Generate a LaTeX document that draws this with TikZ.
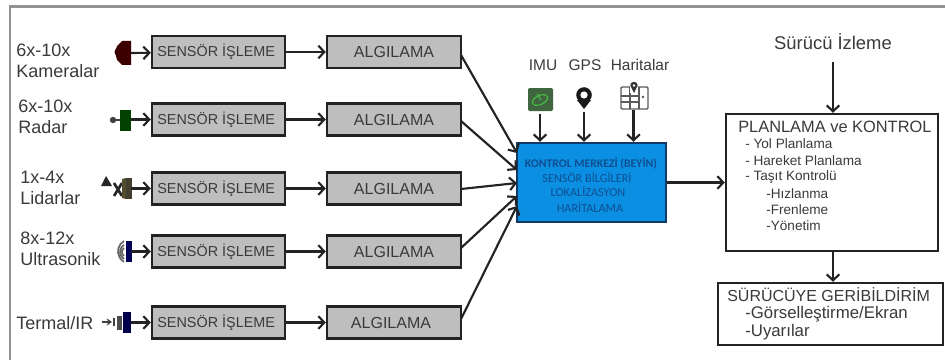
\documentclass[tikz,border=0pt]{standalone}
\usepackage{fontspec}
\setmainfont{Liberation Sans}
\newfontfamily\calib{Carlito}
\usetikzlibrary{arrows.meta,calc}
\definecolor{boxgray}{HTML}{BEBEBE}
\definecolor{edge}{HTML}{232323}
\definecolor{ink}{HTML}{3A3A3A}
\definecolor{ctrlblue}{HTML}{0A8FE3}
\definecolor{ctrlink}{HTML}{0F4F8F}
\definecolor{ctrledge}{HTML}{103A63}
\tikzset{
  x=.75pt,y=-.75pt,
  flow/.style={draw=edge,line width=1.6pt,-{Straight Barb[length=4.5pt,width=9.5pt,line width=1.6pt]}},
  frameline/.style={draw=gray!85,line width=2pt},
  sensorbox/.style={draw=edge,fill=boxgray,line width=1.8pt,minimum width=99.75pt,minimum height=24pt,inner sep=0pt,text=ink,font=\fontsize{10.8}{13}\selectfont},
  algbox/.style={draw=edge,fill=boxgray,line width=1.8pt,minimum width=100.5pt,minimum height=24pt,inner sep=0pt,text=ink,font=\fontsize{12}{14}\selectfont},
  ctrlbox/.style={draw=ctrledge,fill=ctrlblue,line width=1.8pt,minimum width=111.75pt,minimum height=59.25pt,inner sep=0pt},
  planbox/.style={draw=edge,fill=white,line width=1.8pt,inner sep=0pt},
  bigtxt/.style={anchor=west,inner sep=0pt,text=ink,font=\fontsize{13.5}{15}\selectfont},
  toptxt/.style={inner sep=0pt,text=ink,font=\fontsize{11.6}{14}\selectfont},
  plantxt/.style={anchor=west,inner sep=0pt,text=ink,font=\fontsize{10.2}{12}\selectfont},
  fbtxt/.style={anchor=west,inner sep=0pt,text=ink,font=\fontsize{12.6}{14}\selectfont},
  ctrltxt/.style={inner sep=0pt,text=ctrlink,font=\calib\fontsize{9.2}{11}\selectfont},
}
\begin{document}
\begin{tikzpicture}
\useasboundingbox (0,0) rectangle (945,360);
% outer frame
\draw[frameline] (10,360) -- (10,6.5) -- (945,6.5);

% left labels
\node[bigtxt] (l1a) at (16,50) {6x-10x};
\node[bigtxt] (l1b) at (16,71) {Kameralar};
\node[bigtxt] (l2a) at (18,106) {6x-10x};
\node[bigtxt] (l2b) at (18,127) {Radar};
\node[bigtxt] (l3a) at (20,177) {1x-4x};
\node[bigtxt] (l3b) at (20,198) {Lidarlar};
\node[bigtxt] (l4a) at (20,238) {8x-12x};
\node[bigtxt] (l4b) at (20,259) {Ultrasonik};
\node[bigtxt] (l5) at (16,323) {Termal/IR};

% sensor icons
% camera
\fill[black!60!red!60!black] (122,41) -- (131,41) -- (131,65) -- (122,65) -- (117,60) -- (115,52) -- (117,46) -- cycle;
\fill[black!60!red!60!black] (119,52) circle (4.5);
% radar
\fill[black!75] (113,120) circle (3.2);
\draw[black!75,line width=1pt] (113,120) -- (120,120);
\fill[green!25!black] (120,110) rectangle (131,131);
% lidar
\fill[black!85] (101,186) -- (106,176) -- (112,186) -- cycle;
\draw[black!85,line width=2pt] (114,183) -- (122,196);
\draw[black!85,line width=2pt] (114,196) -- (122,183);
\fill[olive!45!black] (122,179) -- (126,178) -- (126,199) -- (122,198) -- cycle;
\fill[black!70!olive] (126,178) rectangle (132,199);
% ultrasonic
\draw[gray!80!black,line width=1.3pt] (124,241) arc[start angle=240,end angle=120,radius=12];
\draw[gray!80!black,line width=1.3pt] (124,245) arc[start angle=240,end angle=120,radius=8];
\draw[gray!80!black,line width=1.3pt] (124,248) arc[start angle=240,end angle=120,radius=4.5];
\fill[blue!35!black] (126,241) rectangle (132,262);
% thermal
\draw[black!75,line width=1.5pt,-{Stealth[length=4pt,width=5.5pt]}] (102,322) -- (112,322);
\fill[black!75] (113,318) rectangle (115,326);
\fill[black!70] (117,316) rectangle (122,330);
\fill[blue!30!black] (123,312) rectangle (131,333);

% sensor connector start points
\coordinate (i1) at (131,53);
\coordinate (i2) at (131,119.5);
\coordinate (i3) at (131,188.5);
\coordinate (i4) at (131,251.5);
\coordinate (i5) at (131,322.5);

% sensor processing boxes
\node[sensorbox] (s1) at (218.5,52) {\hspace*{-3.5pt}SENSÖR İŞLEME};
\node[sensorbox] (s2) at (218.5,119.5) {\hspace*{-3.5pt}SENSÖR İŞLEME};
\node[sensorbox] (s3) at (218.5,188.5) {\hspace*{-3.5pt}SENSÖR İŞLEME};
\node[sensorbox] (s4) at (218.5,251.5) {\hspace*{-3.5pt}SENSÖR İŞLEME};
\node[sensorbox] (s5) at (218.5,322.5) {\hspace*{-3.5pt}SENSÖR İŞLEME};

% perception boxes
\node[algbox] (a1) at (394,52) {ALGILAMA};
\node[algbox] (a2) at (394,119.5) {ALGILAMA};
\node[algbox] (a3) at (394,188.5) {ALGILAMA};
\node[algbox] (a4) at (394,251.5) {ALGILAMA};
\node[algbox] (a5) at (394,322.5) {\hspace*{-4.5pt}ALGILAMA};

\foreach \n in {1,...,5}{
  \draw[flow] (i\n) -- (s\n);
  \draw[flow] (s\n) -- (a\n);
}

% control centre
\node[ctrlbox] (ctrl) at (591.5,182.5) {};
\node[ctrltxt,font=\calib\bfseries\fontsize{8.8}{11}\selectfont] (c1t) at (591,163) {KONTROL MERKEZİ (BEYİN)};
\node[ctrltxt] (c2t) at (587,177.5) {SENSÖR BİLGİLERİ};
\node[ctrltxt] (c3t) at (588,192) {LOKALİZASYON};
\node[ctrltxt] (c4t) at (590,207) {HARİTALAMA};

\coordinate (in1) at (517,153);
\coordinate (in2) at (517,170);
\coordinate (in3) at (517,183);
\coordinate (in4) at (517,196);
\coordinate (in5) at (517,206);
\coordinate (o1) at (461,55);
\coordinate (o2) at (461,121);
\coordinate (o3) at (461,189);
\coordinate (o4) at (461,248);
\coordinate (o5) at (461,319);
\foreach \n in {1,...,5}{\draw[flow] (o\n) -- (in\n);}

% top inputs
\node[toptxt] (imu) at (543,65) {IMU};
\node[toptxt] (gps) at (585,65) {GPS};
\node[toptxt] (har) at (640,65) {Haritalar};

% IMU icon
\fill[green!20!black!75,rounded corners=1pt] (528,88) rectangle (553,111);
\draw[green!45!gray,line width=.9pt,rotate around={25:(540,100)}] (540,100) ellipse (8 and 4.5);
\draw[green!45!gray,line width=.9pt] (537,94) -- (541,100);
% GPS icon
\fill[black!90] (584,109) -- (577,100) -- (591,100) -- cycle;
\fill[black!90] (584,95) circle (7.8);
\fill[white] (584,95) circle (3.6);
% map icon
\draw[black!65,line width=1.1pt,rounded corners=.8pt] (621,87) rectangle (648,109);
\draw[black!65,line width=1pt] (630,87) -- (630,109) (639,87) -- (639,109) (621,96) -- (639,96) (621,102) -- (639,102);
\fill[white] (630,82) rectangle (638,93);
\fill[black!80] (634,93) -- (630.3,85.5) arc[start angle=180,end angle=360,radius=3.7] -- cycle;
\fill[white] (634,85.5) circle (1.3);
\fill[black!65] (643,97) circle (1.4);

\coordinate (u1) at (540,114);
\coordinate (u2) at (584,112);
\coordinate (u3) at (633.5,110);
\draw[flow] (u1) -- (u1 |- ctrl.north);
\draw[flow] (u2) -- (u2 |- ctrl.north);
\draw[flow] (u3) -- (u3 |- ctrl.north);

% planning
\node[planbox,minimum width=159pt,minimum height=102.75pt] (plan) at (832,182.5) {};
\draw[flow] (ctrl.east) -- (plan.west);
\node[anchor=west,inner sep=0pt,text=ink,font=\fontsize{12.3}{14}\selectfont] (p0) at (738,127) {PLANLAMA ve KONTROL};
\node[plantxt] (p1) at (745,144) {- Yol Planlama};
\node[plantxt] (p2) at (745,161) {- Hareket Planlama};
\node[plantxt] (p3) at (745,177) {- Taşıt Kontrolü};
\node[plantxt] (p4) at (766,194) {-Hızlanma};
\node[plantxt] (p5) at (766,210) {-Frenleme};
\node[plantxt] (p6) at (766,226) {-Yönetim};

% driver monitoring
\node[inner sep=0pt,text=ink,font=\fontsize{13.8}{16}\selectfont] (drv) at (833,42) {Sürücü İzleme};
\coordinate (d0) at (833,62);
\draw[flow] (d0) -- (d0 |- plan.north);

% feedback
\node[planbox,minimum width=168.75pt,minimum height=46.5pt] (fb) at (830.5,314) {};
\coordinate (p9) at (833,251);
\draw[flow] (p9) -- (p9 |- fb.north);
\node[anchor=west,inner sep=0pt,text=ink,font=\fontsize{12}{14}\selectfont] (f0) at (727,295) {SÜRÜCÜYE GERİBİLDİRİM};
\node[fbtxt] (f1) at (745,314) {-Görselleştirme/Ekran};
\node[fbtxt] (f2) at (745,332) {-Uyarılar};
\end{tikzpicture}
\end{document}
